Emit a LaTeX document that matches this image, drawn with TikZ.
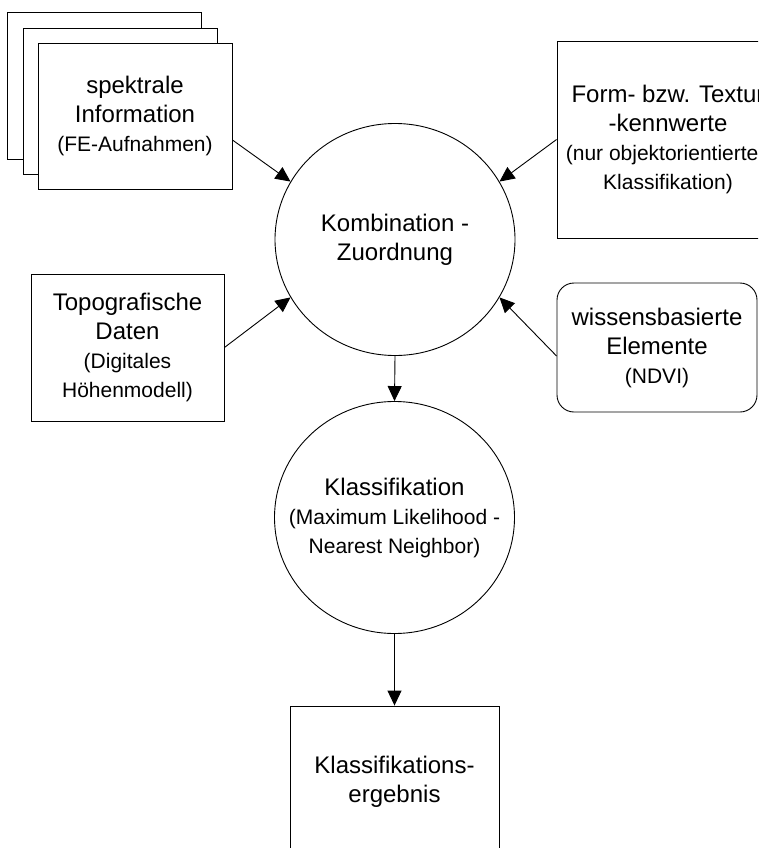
\documentclass[tikz,border=0pt]{standalone}
\usepackage{fontspec}
\setmainfont{Liberation Sans}
\usetikzlibrary{arrows.meta,shapes.geometric,calc}

% smaller type for the bracketed remarks
\newcommand\remark{\fontsize{21}{27}\selectfont}

\begin{document}
\begin{tikzpicture}[x=1pt,y=-1pt,
  line width=0.9pt,
  box/.style={draw, fill=white, inner sep=0pt, align=center,
    font=\fontsize{24}{29}\selectfont},
  oval/.style={draw, ellipse, minimum width=240pt, minimum height=232pt,
    inner sep=0pt},
  ovaltext/.style={inner sep=0pt, align=center, font=\fontsize{24}{29}\selectfont},
  arr/.style={-{Triangle[length=15pt,width=14pt]}},
]
\useasboundingbox (0,0) rectangle (758,848);
\clip (0,0) rectangle (758,848);
\fill[white] (0,0) rectangle (758,848);

% stacked sheets of spectral data
\node[box, minimum width=194pt, minimum height=147pt] (back) at (104,85.5) {};
\node[box, minimum width=194pt, minimum height=146pt] (mid) at (120,101) {};
\node[box, minimum width=194pt, minimum height=146pt] (front) at (135,116)
  {spektrale\\Information\\{\remark (FE-Aufnahmen)}};

% shape / texture parameters
\node[box, minimum width=222pt, minimum height=197pt] (form) at (668,139.5)
  {Form- bzw. Textur\\-kennwerte\\{\remark (nur objektorientierten}\\{\remark Klassifikation)}};

% topographic data
\node[box, minimum width=193pt, minimum height=147pt] (topo) at (127.5,347.5)
  {Topografische\\Daten\\{\remark (Digitales}\\{\remark Höhenmodell)}};

% knowledge based elements
\node[box, rounded corners=17pt, minimum width=200pt, minimum height=129pt] (wiss) at (657,347.5)
  {wissensbasierte\\Elemente\\{\remark (NDVI)}};

% combination and classification
\node[oval, label={[ovaltext]center:Kombination -\\Zuordnung}] (komb) at (395,239.5) {};
\node[oval, label={[ovaltext]center:Klassifikation\\{\remark (Maximum Likelihood -}\\{\remark Nearest Neighbor)}}]
  (klass) at (394.5,517.5) {};

% result
\node[box, minimum width=209pt, minimum height=152pt] (erg) at (394.5,782)
  {Klassifikations-\\ergebnis};

% connectors
\draw[arr] ($(front.east)+(0,24)$) -- (komb.151);
\draw[arr] (form.west) -- (komb.29);
\draw[arr] (topo.east) -- (komb.209);
\draw[arr] ($(wiss.west)+(0,8.5)$) -- (komb.-29);
\draw[arr] (komb.south) -- (klass.north);
\draw[arr] (klass.south) -- (erg.north);
\end{tikzpicture}
\end{document}
